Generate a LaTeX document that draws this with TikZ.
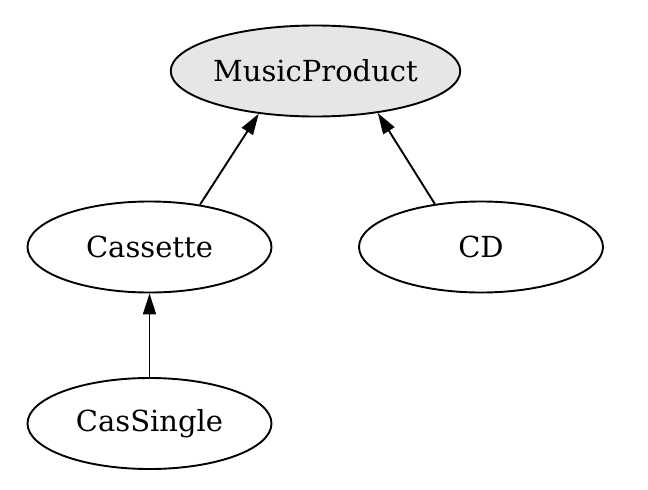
\documentclass[tikz,border=0pt]{standalone}
\usepackage{fontspec}
\setmainfont{DejaVu Serif}
\usetikzlibrary{arrows.meta,shapes.geometric}
\definecolor{basegray}{HTML}{E6E6E6}
\begin{document}
\begin{tikzpicture}[>={Triangle[length=21pt,width=13pt]},x=1pt,y=-1pt,
		cls/.style={ellipse,draw,line width=1.9pt,minimum width=244pt,minimum height=91pt,inner sep=0pt,font=\fontsize{29}{31}\selectfont}]
		\useasboundingbox (0,0) rectangle (648,490);
		\node[cls,fill=basegray] (mp) at (315.5,71) {MusicProduct};
		\node[cls] (cas) at (149.5,247) {Cassette};
		\node[cls] (cd) at (481,247) {CD};
		\node[cls] (cs) at (149.5,423.5) {CasSingle};
		\draw[->,line width=1.9pt] (cas.40) -- (mp.217);
		\draw[->,line width=1.9pt] (cd.137) -- (mp.326);
		\draw[->,line width=1.9pt] (cs.north) -- (cas.south);
\end{tikzpicture}
\end{document}
